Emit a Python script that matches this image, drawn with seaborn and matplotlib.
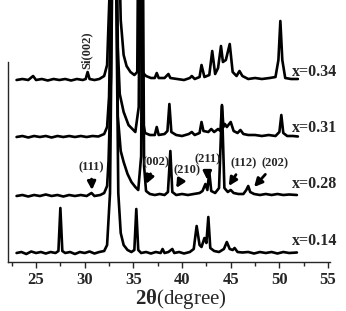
import numpy as np
import pandas as pd
import seaborn as sns
import matplotlib.pyplot as plt

# XRD patterns (2theta in degree, intensity in arbitrary units above each baseline)
tt_014 = [23.0, 23.5, 24.0, 24.5, 25.0, 25.5, 26.0, 26.5, 27.0, 27.3, 27.5, 27.7, 28.0, 28.5, 29.0,
          29.5, 30.0, 30.5, 31.0, 31.5, 32.0, 32.3, 32.6, 32.85, 33.2, 33.45, 33.7, 34.0, 34.4, 34.8,
          35.1, 35.3, 35.5, 35.8, 36.3, 36.8, 37.3, 37.8, 38.0, 38.2, 38.6, 39.0, 39.2, 39.7, 40.2,
          40.8, 41.2, 41.5, 41.8, 42.0, 42.3, 42.5, 42.7, 42.9, 43.3, 43.8, 44.3, 44.6, 44.9, 45.2,
          45.4, 45.7, 46.2, 46.8, 47.4, 48.0, 48.6, 49.2, 49.8, 50.4, 51.0, 51.8]
int_014 = [0, 1, -1, 1.5, 0, 1, -0.5, 1, 0, 2, 45, 2, 0, 1, -1,
           1, 0, 1.5, -0.5, 1, 2, 8, 60, 300, 300, 60, 20, 8, 3, 1,
           3, 44, 3, 0, 1, -0.5, 1, 0, 4, 0, 1, 4, 0, 1, -0.5,
           1, 4, 27, 8, 6, 15, 10, 36, 5, 2, 1, 4, 11, 4, 3,
           5, 1, 0.5, 1, -0.5, 1, 0, 1, -0.5, 1, 0, 0.5]

tt_028 = [23.0, 23.6, 24.2, 24.8, 25.4, 26.0, 26.6, 27.2, 27.8, 28.4, 29.0, 29.6, 30.2, 30.7, 31.0,
          31.6, 32.0, 32.3, 32.45, 32.7, 32.85, 33.2, 33.4, 33.7, 34.0, 34.4, 34.8, 35.2, 35.5, 35.8,
          35.95, 36.1, 36.3, 36.7, 37.2, 37.7, 38.2, 38.55, 38.8, 39.0, 39.4, 40.0, 40.6, 41.2, 41.8,
          42.1, 42.4, 42.6, 42.8, 43.0, 43.4, 43.8, 44.1, 44.35, 44.7, 45.0, 45.3, 45.8, 46.3, 46.6,
          46.8, 47.0, 47.4, 48.0, 48.6, 49.2, 49.8, 50.4, 51.0, 51.8]
int_028 = [0, 1, -0.5, 1, 0, 1.5, 0, 1, -0.5, 1, 0, 1, 0, 3, 0,
           1, 3, 10, 35, 120, 300, 300, 80, 45, 34, 22, 14, 9, 6, 40,
           300, 30, 5, 2, 1, 2, 1, 4, 45, 4, 1, 2, 1, 2, 3,
           5, 12, 6, 24, 5, 3, 8, 90, 8, 4, 6, 3, 2, 2, 6,
           10, 4, 2, 1, 2, 1, 2, 1, 1.5, 1]

tt_031 = [23.0, 23.6, 24.2, 24.8, 25.4, 26.0, 26.6, 27.2, 27.8, 28.4, 29.0, 29.6, 30.2, 30.8, 31.4,
          32.0, 32.3, 32.5, 32.7, 32.85, 33.2, 33.4, 33.6, 34.0, 34.5, 35.2, 35.55, 35.75, 35.9, 36.2,
          36.7, 37.2, 37.4, 37.6, 38.2, 38.5, 38.7, 38.9, 39.4, 40.0, 40.7, 41.0, 41.3, 41.8, 42.0,
          42.2, 42.7, 43.0, 43.3, 43.7, 43.95, 44.1, 44.25, 44.4, 44.6, 45.0, 45.3, 45.7, 46.0, 46.3,
          46.8, 47.5, 48.2, 48.9, 49.6, 50.0, 50.2, 50.4, 50.8, 51.4, 51.9]
int_031 = [0, 1, -0.5, 1, 0, 1, -0.5, 1, 0, 1, 0, 1, 0, 1, 0.5,
           3, 10, 40, 140, 300, 300, 90, 43, 25, 12, 5, 30, 300, 20, 4,
           2, 2, 10, 2, 3, 6, 33, 5, 2, 1, 3, 5, 2, 4, 15,
           6, 5, 8, 5, 8, 6, 32, 10, 13, 10, 15, 6, 4, 7, 3,
           2, 2, 1, 2, 1, 5, 22, 4, 1, 1, 0.5]

tt_034 = [23.0, 23.6, 24.2, 24.7, 25.0, 25.6, 26.2, 26.8, 27.4, 28.0, 28.6, 29.2, 29.8, 30.1, 30.3,
          30.5, 31.0, 31.5, 32.0, 32.3, 32.6, 32.85, 33.2, 33.5, 33.7, 34.0, 34.3, 34.7, 35.1, 35.4,
          35.6, 35.75, 35.9, 36.3, 36.8, 37.2, 37.4, 37.6, 38.2, 38.6, 38.8, 39.5, 40.2, 40.8, 41.0,
          41.3, 41.8, 42.0, 42.3, 42.8, 43.1, 43.4, 43.7, 44.0, 44.2, 44.5, 44.9, 45.2, 45.6, 45.9,
          46.2, 46.8, 47.5, 48.2, 49.0, 49.6, 49.9, 50.1, 50.3, 50.6, 51.2, 51.9]
int_034 = [0, 1, 0, 4, 0, 1, -0.5, 1, 0, 1, -0.5, 1, 0, 1, 8,
           1, 0, 1, 4, 15, 100, 300, 300, 150, 60, 25, 14, 8, 5, 8,
           300, 60, 8, 4, 2, 2, 7, 2, 2, 6, 2, 1, 0, 2, 4,
           1, 3, 15, 3, 5, 29, 6, 12, 34, 18, 20, 36, 8, 4, 9,
           4, 1, 2, 1, 2, 3, 20, 59, 20, 2, 1, 1]

samples = ['x=0.14', 'x=0.28', 'x=0.31', 'x=0.34']
offsets = [9, 66, 125, 182]
label_pos = [(51.3, 21), (51.3, 78), (51.3, 134), (51.3, 190)]

peak_labels = ['(111)', '(002)', '(210)', '(211)', '(112)', '(202)']
peak_text = [(30.65, 95), (37.3, 100), (40.5, 92), (42.6, 103), (46.3, 99), (49.6, 99)]
peak_tip = [(30.75, 72), (36.3, 78), (39.4, 74), (42.6, 82), (44.8, 76), (47.4, 75)]

frames = []
for name, off, tt, inten in zip(samples, offsets,
                                [tt_014, tt_028, tt_031, tt_034],
                                [int_014, int_028, int_031, int_034]):
    frames.append(pd.DataFrame({'two_theta': tt,
                                'intensity': np.array(inten, dtype=float) + off,
                                'sample': name}))
df = pd.concat(frames, ignore_index=True)

sns.set_style('ticks')
plt.rcParams['font.family'] = ['Liberation Serif', 'DejaVu Serif']
plt.rcParams['mathtext.fontset'] = 'custom'
plt.rcParams['mathtext.rm'] = 'Liberation Serif'
plt.rcParams['mathtext.bf'] = 'Liberation Serif:bold'

fig = plt.figure(figsize=(3.46, 3.11), dpi=100)
ax = fig.add_axes([8 / 346, 49 / 311, 322 / 346, 262 / 311])

sns.lineplot(data=df, x='two_theta', y='intensity', hue='sample',
             palette=['black'] * 4, estimator=None, sort=False,
             legend=False, linewidth=1.9, ax=ax)

ax.set_xlim(22.12, 55.2)
ax.set_ylim(0, 262)
ax.set_yticks([])
ax.set_xticks([25, 30, 35, 40, 45, 50, 55])
ax.set_xticks(np.arange(22.5, 55, 5), minor=True)
ax.tick_params(axis='x', which='major', direction='out', length=4, width=1,
               labelsize=12, pad=3)
ax.tick_params(axis='x', which='minor', direction='out', length=3, width=1)
for lab in ax.get_xticklabels():
    lab.set_fontweight('bold')
ax.set_xlabel('')
ax.set_ylabel('')

for side in ['top', 'right']:
    ax.spines[side].set_visible(False)
ax.spines['left'].set_bounds(0, 200)
ax.spines['left'].set_linewidth(1)
ax.spines['bottom'].set_linewidth(1)

for name, (lx, ly) in zip(samples, label_pos):
    ax.text(lx, ly, name, ha='left', va='center', fontsize=11.5,
            fontweight='bold', clip_on=False)

ax.text(30.24, 212, 'Si(002)', rotation=90, ha='center', va='center',
        fontsize=9, fontweight='bold')

for lab, xyt, tip in zip(peak_labels, peak_text, peak_tip):
    ax.annotate(lab, xy=tip, xytext=xyt, ha='center', va='center',
                fontsize=9, fontweight='bold',
                arrowprops=dict(arrowstyle='-|>', color='black', lw=2,
                                mutation_scale=12, shrinkA=2, shrinkB=0))

fig.text(181 / 346, 1 - 299 / 311, r'$\mathbf{2θ}$(degree)', ha='center',
         va='center', fontsize=15)

fig.savefig('out.png', dpi=100)
